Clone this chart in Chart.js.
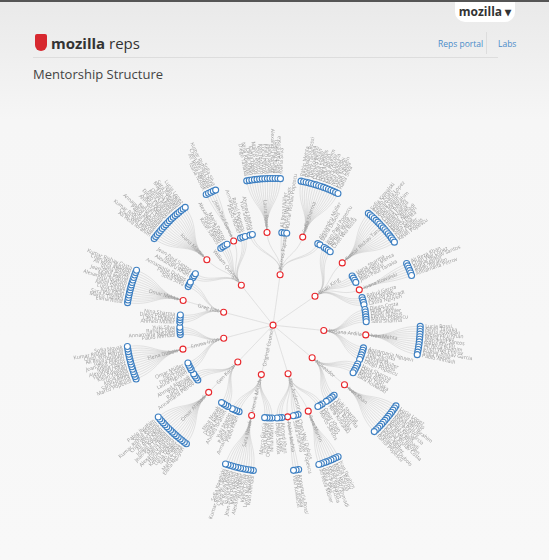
<!DOCTYPE html>
<html><head><meta charset="utf-8">
<script src="https://cdn.jsdelivr.net/npm/chart.js@4/dist/chart.umd.min.js"></script>
<style>
html,body{margin:0;padding:0;width:549px;height:560px;overflow:hidden;font-family:"Open Sans",sans-serif;}
body{background:linear-gradient(#e9e9e9 0px,#f6f6f6 120px,#f8f8f8 560px);position:relative;border-top:2px solid #555;box-sizing:border-box;}
#tab{position:absolute;left:455px;top:0;width:60px;height:20px;background:#fff;border-radius:0 0 10px 10px;font:bold 12px "Open Sans";color:#333;text-align:center;line-height:20px;}
#logo{position:absolute;left:35px;top:32px;width:12px;height:17px;background:#d7282f;border-radius:2px 2px 6px 6px;}
#brand{position:absolute;left:51px;top:31px;font-size:15px;color:#333;}
#brand b{font-weight:700;}
#nav{position:absolute;left:438px;top:36px;font-size:8.5px;color:#4a8cc9;}
#sep{position:absolute;left:486px;top:30px;width:1px;height:22px;background:#ddd;}
#labs{position:absolute;left:498px;top:36px;font-size:8.5px;color:#4a8cc9;}
#rule{position:absolute;left:33px;top:55px;width:465px;height:1px;background:#ddd;}
#title{position:absolute;left:33px;top:63px;font-size:13px;color:#444;}
#wrap{position:absolute;left:0;top:100px;width:549px;height:458px;}
</style></head><body>
<div id="tab">mozilla ▾</div>
<div id="logo"></div><div id="brand"><b>mozilla</b> reps</div>
<div id="nav">Reps portal</div><div id="sep"></div><div id="labs">Labs</div>
<div id="rule"></div>
<div id="title">Mentorship Structure</div>
<div id="wrap"><canvas id="c" width="549" height="458"></canvas></div>
<script>
// Tree data: council mentors, their direct mentee counts, and sub-mentors' mentee counts
const rootName = "Original Council";
const councilNames = ["William Quiviger","Pierros Papadeas","Brian King","Rosana Ardila","Nukeador","Tim Anderson","Henrik Mitsch","Gen Kanai","Emma Irwin","Greg Jost"];
const directMentees = [10, 7, 12, 12, 10, 9, 8, 8, 8, 7];
const subMentorCounts = [[18,5],[14,16],[16,6],[12],[14],[9,3],[12],[16],[14],[14]];
const firstNames = ["Alexandru","Maria","Jean-Paul","Ioana","Ali Reza","Chen Wei","Kumar Rishav","Sofia","Pablo","Annamaria","Rahul","Yuki","Ahmed","Laura","Diego","Nina","Omar","Elena","Marco","Sara","Ivan","Lucia","Kevin","Hana"];
const lastNames = ["Silva","Popescu","Rossi","Khan","Martin","Garcia","Nguyen","Müller","Sharma","Tanaka","Lopez","Ibrahim","Novak","Costa","Dubois","Mehta","Kowalski","Santos","Petrov","Ahmadi"];
const canvasCenter = {x:273, y:223};
const ringStep = 50;
</script>
<script>
let ni = 0;
function nm(){ const n = firstNames[ni % firstNames.length] + " " + lastNames[(ni*7+3) % lastNames.length]; ni++; return n; }
const root = {name:rootName, depth:0, children:[]};
councilNames.forEach((cn,i)=>{
  const c = {name:cn, depth:1, children:[]};
  const subs = subMentorCounts[i];
  const leaves = directMentees[i];
  const pos = subs.map((_,k)=>Math.round((k+1)*leaves/(subs.length+1)));
  let s = 0;
  for(let j=0;j<=leaves;j++){
    while(s<subs.length && pos[s]===j){
      const m = {name:nm(), depth:2, children:[]};
      for(let k=0;k<subs[s];k++) m.children.push({name:nm(), depth:3, children:[]});
      c.children.push(m); s++;
    }
    if(j<leaves) c.children.push({name:nm(), depth:2, children:[]});
  }
  root.children.push(c);
});
let cursor = 0, prevParent = null;
const all = [];
function place(n, parent){
  n.parent = parent; all.push(n);
  if(n.children.length===0){
    const w = 1/n.depth;
    if(prevParent && prevParent!==parent) cursor += w*1.0;
    n.t = cursor; cursor += w; prevParent = parent;
  } else {
    n.children.forEach(ch=>place(ch,n));
    n.t = (n.children[0].t + n.children[n.children.length-1].t)/2;
  }
}
place(root,null);
cursor += 0.5;
const startAngle = -Math.PI*0.83;
all.forEach(n=>{
  n.a = startAngle + n.t/cursor*2*Math.PI;
  n.r = n.depth===0?0:(n.depth===1?52:n.depth*ringStep - 5 + (n.depth===3?5:0));
  n.x = n.r*Math.cos(n.a); n.y = n.r*Math.sin(n.a);
});

const linkPlugin = {id:'links', beforeDatasetsDraw(chart){
  const ctx = chart.ctx, xs = chart.scales.x, ys = chart.scales.y;
  const P = (a,r)=>[xs.getPixelForValue(r*Math.cos(a)), ys.getPixelForValue(r*Math.sin(a))];
  ctx.save(); ctx.strokeStyle='rgba(175,175,175,0.5)'; ctx.lineWidth=0.6;
  all.forEach(n=>{ if(!n.parent) return;
    const p=n.parent, mr=(p.r+n.r)/2;
    const s=P(p.depth?p.a:n.a,p.r), c1=P(p.depth?p.a:n.a,mr), c2=P(n.a,mr), e=P(n.a,n.r);
    ctx.beginPath(); ctx.moveTo(...s); ctx.bezierCurveTo(...c1,...c2,...e); ctx.stroke();
  });
  ctx.fillStyle='#999'; ctx.font='5.2px "Open Sans"'; ctx.textBaseline='middle';
  all.forEach(n=>{
    const [px,py]=P(n.a,n.r);
    ctx.save(); ctx.translate(px,py);
    if(n.depth===0){ ctx.rotate(-Math.PI/2.3); ctx.textAlign='right'; ctx.fillText(n.name,-4,0); ctx.restore(); return; }
    const norm=((n.a%(2*Math.PI))+2*Math.PI)%(2*Math.PI);
    if(norm>Math.PI/2 && norm<3*Math.PI/2){ ctx.rotate(n.a+Math.PI); ctx.textAlign='right'; ctx.fillText(n.name,-5,0); }
    else { ctx.rotate(n.a); ctx.textAlign='left'; ctx.fillText(n.name,5,0); }
    ctx.restore();
  });
  ctx.restore();
}};

new Chart(document.getElementById('c'),{
  type:'scatter',
  data:{datasets:[{
    data: all.map(n=>({x:n.x,y:n.y})),
    pointRadius:3, pointBorderWidth:1.1,
    pointBackgroundColor:'#fff',
    pointBorderColor: all.map(n=>n.children.length?'#e8262b':'#3d7fc1')
  }]},
  options:{responsive:false, animation:false, events:[],
    layout:{padding:0},
    plugins:{legend:{display:false},tooltip:{enabled:false}},
    scales:{
      x:{type:'linear',display:false,min:-canvasCenter.x,max:549-canvasCenter.x},
      y:{type:'linear',display:false,reverse:true,min:-canvasCenter.y,max:458-canvasCenter.y}
    }},
  plugins:[linkPlugin]
});
</script>
</body></html>
